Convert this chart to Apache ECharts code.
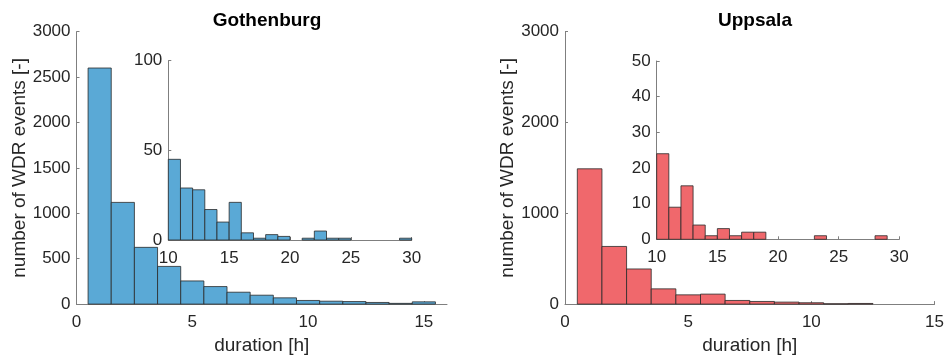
<!DOCTYPE html>
<html>
<head>
<meta charset="utf-8">
<script src="https://cdn.jsdelivr.net/npm/echarts@6/dist/echarts.min.js"></script>
<style>html,body{margin:0;padding:0;background:#fff;}#c{width:947px;height:360px;}</style>
</head>
<body>
<div id="c"></div>
<script>
// ---- data ----
const gbgCenters = [1,2,3,4,5,6,7,8,9,10,11,12,13,14,15];
const gbgCounts  = [2600,1120,625,415,255,193,131,98,69,40,32,28,18,8,25];
const gbgInsetStarts = [10,11,12,13,14,15,16,17,18,19,20,21,22,23,24,25,26,27,28,29];
const gbgInsetCounts = [45,29,28,17,10,21,4,1,3,2,0,1,5,1,1,0,0,0,0,1];

const upsCenters = [1,2,3,4,5,6,7,8,9,10,11,12];
const upsCounts  = [1490,635,387,168,102,110,40,29,22,15,4,7];
const upsInsetStarts = [10,11,12,13,14,15,16,17,18,19,20,21,22,23,24,25,26,27,28,29];
const upsInsetCounts = [24,9,15,4,1,3,1,2,2,0,0,0,0,1,0,0,0,0,1,0];

const mainXTicks = [0,5,10,15];
const insetXTicks = [10,15,20,25,30];

const titles = ['Gothenburg','Uppsala'];
const xName = 'duration [h]';
const yName = 'number of WDR events [-]';

// ---- helpers ----
const FONT = 'Liberation Sans, Arial, Helvetica, sans-serif';
const BLUE = '#5aa9d6', RED = '#f0686c';
const AX = '#7f7f7f', TXT = '#262626';
const plain = v => String(v);

function centered(centers, counts){
  return centers.map((c,i)=>[c-0.5, c+0.5, counts[i]]).filter(d=>d[2]>0);
}
function fromStarts(starts, counts){
  return starts.map((s,i)=>[s, s+1, counts[i]]).filter(d=>d[2]>0);
}
function renderItem(params, api){
  const p0 = api.coord([api.value(0), api.value(2)]);
  const p1 = api.coord([api.value(1), 0]);
  return {type:'rect', shape:{x:p0[0], y:p0[1], width:p1[0]-p0[0], height:p1[1]-p0[1]},
          style: api.style()};
}
function hist(data, color, idx){
  return {type:'custom', xAxisIndex:idx, yAxisIndex:idx, renderItem,
    encode:{x:[0,1], y:2}, data,
    itemStyle:{color, borderColor:'#2a2a2a', borderWidth:0.8}, silent:true};
}
function xAxis(idx, min, max, ticks, withName){
  return {type:'value', gridIndex:idx, min, max,
    axisLine:{show:true, onZero:false, lineStyle:{color:AX, width:1}},
    axisTick:{show:true, inside:true, length:3, lineStyle:{color:AX}, customValues:ticks},
    axisLabel:{color:TXT, fontSize:17, fontFamily:FONT, margin:10, customValues:ticks, formatter:plain},
    splitLine:{show:false},
    name: withName ? xName : '', nameLocation:'middle', nameGap:26,
    nameTextStyle:{color:TXT, fontSize:19, fontFamily:FONT}};
}
function yAxis(idx, max, interval, withName){
  return {type:'value', gridIndex:idx, min:0, max, interval,
    axisLine:{show:true, lineStyle:{color:AX, width:1}},
    axisTick:{show:true, inside:true, length:3, lineStyle:{color:AX}},
    axisLabel:{color:TXT, fontSize:17, fontFamily:FONT, margin:6, formatter:plain},
    splitLine:{show:false},
    name: withName ? yName : '', nameLocation:'middle', nameRotate:90, nameGap:47,
    nameTextStyle:{color:TXT, fontSize:19, fontFamily:FONT}};
}

const chart = echarts.init(document.getElementById('c'), null, {renderer:'canvas'});
chart.setOption({
  animation:false,
  backgroundColor:'#fff',
  title:[
    {text:titles[0], left:262, top:6, textAlign:'center', textStyle:{fontSize:19, fontWeight:'bold', color:'#000', fontFamily:FONT}},
    {text:titles[1], left:750, top:6, textAlign:'center', textStyle:{fontSize:19, fontWeight:'bold', color:'#000', fontFamily:FONT}}
  ],
  grid:[
    {left:76.5, right:500, top:31.7, bottom:53.3},
    {left:168.3, right:535.3, top:60.7, bottom:120},
    {left:565, right:12, top:31.7, bottom:54},
    {left:656.7, right:47.7, top:61, bottom:120.7}
  ],
  xAxis:[
    xAxis(0, 0, 16, mainXTicks, true),
    xAxis(1, 10, 30, insetXTicks, false),
    xAxis(2, 0, 15, mainXTicks, true),
    xAxis(3, 10, 30, insetXTicks, false)
  ],
  yAxis:[
    yAxis(0, 3000, 500, true),
    yAxis(1, 100, 50, false),
    yAxis(2, 3000, 1000, true),
    yAxis(3, 50, 10, false)
  ],
  series:[
    hist(centered(gbgCenters, gbgCounts), BLUE, 0),
    hist(fromStarts(gbgInsetStarts, gbgInsetCounts), BLUE, 1),
    hist(centered(upsCenters, upsCounts), RED, 2),
    hist(fromStarts(upsInsetStarts, upsInsetCounts), RED, 3)
  ]
});
</script>
</body>
</html>
